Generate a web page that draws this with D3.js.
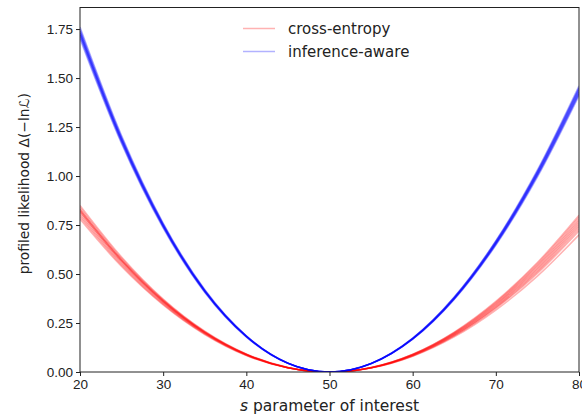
<!DOCTYPE html>
<html>
<head>
<meta charset="utf-8" />
<style>
body { margin: 0; background: white; }
svg { display: block; font-family: "DejaVu Sans", sans-serif; }
.axis path, .axis line { fill: none; stroke: #222; }
.axis text { font-size: 13.5px; fill: #222; }
</style>
<script src="https://cdnjs.cloudflare.com/ajax/libs/d3/7.8.5/d3.min.js"></script>
</head>
<body>
<div id="chart"></div>
<script>
var sValues = [20, 25, 30, 35, 40, 45, 50, 55, 60, 65, 70, 75, 80];

// cross-entropy runs
var crossEntropy = [
  [0.78, 0.538, 0.342, 0.191, 0.084, 0.021, 0, 0.023, 0.091, 0.204, 0.361, 0.559, 0.80],
  [0.80, 0.552, 0.350, 0.196, 0.086, 0.022, 0, 0.021, 0.082, 0.184, 0.325, 0.503, 0.72],
  [0.82, 0.566, 0.359, 0.201, 0.089, 0.022, 0, 0.022, 0.087, 0.194, 0.343, 0.531, 0.76],
  [0.84, 0.580, 0.368, 0.206, 0.091, 0.023, 0, 0.020, 0.080, 0.179, 0.316, 0.489, 0.70],
  [0.85, 0.587, 0.372, 0.208, 0.092, 0.023, 0, 0.022, 0.089, 0.199, 0.352, 0.545, 0.78],
  [0.81, 0.559, 0.355, 0.198, 0.087, 0.022, 0, 0.021, 0.084, 0.189, 0.334, 0.517, 0.74],
  [0.82, 0.566, 0.359, 0.201, 0.089, 0.022, 0, 0.023, 0.090, 0.201, 0.356, 0.552, 0.79],
  [0.83, 0.573, 0.364, 0.203, 0.090, 0.022, 0, 0.021, 0.083, 0.186, 0.329, 0.510, 0.73],
  [0.79, 0.545, 0.346, 0.194, 0.085, 0.021, 0, 0.022, 0.088, 0.196, 0.347, 0.538, 0.77],
  [0.83, 0.573, 0.364, 0.203, 0.090, 0.022, 0, 0.022, 0.086, 0.191, 0.338, 0.524, 0.75]
];

// inference-aware runs
var inferenceAware = [
  [1.70, 1.165, 0.734, 0.406, 0.178, 0.044, 0, 0.042, 0.167, 0.370, 0.647, 0.995, 1.41],
  [1.72, 1.178, 0.743, 0.411, 0.181, 0.044, 0, 0.043, 0.169, 0.375, 0.656, 1.010, 1.43],
  [1.74, 1.192, 0.752, 0.416, 0.183, 0.045, 0, 0.043, 0.171, 0.378, 0.661, 1.017, 1.44],
  [1.76, 1.206, 0.760, 0.421, 0.185, 0.045, 0, 0.044, 0.173, 0.383, 0.670, 1.031, 1.46],
  [1.71, 1.171, 0.739, 0.409, 0.180, 0.044, 0, 0.044, 0.172, 0.381, 0.666, 1.024, 1.45],
  [1.75, 1.199, 0.756, 0.418, 0.184, 0.045, 0, 0.043, 0.168, 0.373, 0.652, 1.003, 1.42],
  [1.73, 1.185, 0.747, 0.413, 0.182, 0.045, 0, 0.043, 0.171, 0.378, 0.661, 1.017, 1.44],
  [1.72, 1.178, 0.743, 0.411, 0.181, 0.044, 0, 0.044, 0.172, 0.381, 0.666, 1.024, 1.45],
  [1.74, 1.192, 0.752, 0.416, 0.183, 0.045, 0, 0.043, 0.169, 0.375, 0.656, 1.010, 1.43],
  [1.73, 1.185, 0.747, 0.413, 0.182, 0.045, 0, 0.043, 0.168, 0.373, 0.652, 1.003, 1.42]
];

var xTicks = [20, 30, 40, 50, 60, 70, 80];
var yTicks = [0, 0.25, 0.5, 0.75, 1.0, 1.25, 1.5, 1.75];
var legendLabels = ["cross-entropy", "inference-aware"];

var margin = { top: 7.5, right: 3, bottom: 43, left: 80 },
    width = 582 - margin.left - margin.right,
    height = 415 - margin.top - margin.bottom;

var svg = d3.select("#chart").append("svg")
    .attr("width", 582)
    .attr("height", 415);

var g = svg.append("g")
    .attr("transform", "translate(" + margin.left + "," + margin.top + ")");

var xScale = d3.scaleLinear().domain([20, 80]).range([0, width]);
var yScale = d3.scaleLinear().domain([0, 1.86]).range([height, 0]);

g.append("clipPath").attr("id", "clip")
  .append("rect").attr("width", width).attr("height", height);

var line = d3.line()
    .x(function(d, i) { return xScale(sValues[i]); })
    .y(function(d) { return yScale(d); })
    .curve(d3.curveCatmullRom.alpha(0));

var curves = g.append("g").attr("clip-path", "url(#clip)");

curves.selectAll(".ce")
  .data(crossEntropy)
  .enter().append("path")
    .attr("class", "ce")
    .attr("d", line)
    .attr("fill", "none")
    .attr("stroke", "red")
    .attr("stroke-opacity", 0.3)
    .attr("stroke-width", 1.5);

curves.selectAll(".ia")
  .data(inferenceAware)
  .enter().append("path")
    .attr("class", "ia")
    .attr("d", line)
    .attr("fill", "none")
    .attr("stroke", "blue")
    .attr("stroke-opacity", 0.3)
    .attr("stroke-width", 1.5);

// axes
g.append("g")
    .attr("class", "axis")
    .attr("transform", "translate(0," + height + ")")
    .call(d3.axisBottom(xScale).tickValues(xTicks).tickSize(4).tickPadding(3).tickFormat(d3.format("d")))
    .call(function(a) { a.select(".domain").remove(); });

g.append("g")
    .attr("class", "axis")
    .call(d3.axisLeft(yScale).tickValues(yTicks).tickSize(4).tickPadding(3).tickFormat(d3.format(".2f")))
    .call(function(a) { a.select(".domain").remove(); });

// frame
g.append("rect")
    .attr("width", width)
    .attr("height", height)
    .attr("fill", "none")
    .attr("stroke", "#222")
    .attr("stroke-width", 1);

// axis titles
g.append("text")
    .attr("transform", "translate(" + (-51) + "," + (height / 2 - 6) + ")rotate(-90)")
    .attr("text-anchor", "middle")
    .attr("font-size", "13.8px")
    .attr("fill", "#222")
    .text("profiled likelihood Δ(−lnℒ)");

var xLabel = g.append("text")
    .attr("x", width / 2)
    .attr("y", height + 38.5)
    .attr("text-anchor", "middle")
    .attr("font-size", "15.5px")
    .attr("fill", "#222");
xLabel.append("tspan").attr("font-style", "italic").text("s");
xLabel.append("tspan").text(" parameter of interest");

// legend
var legend = g.selectAll(".legend")
  .data(legendLabels)
  .enter().append("g")
    .attr("class", "legend")
    .attr("transform", function(d, i) { return "translate(" + (163) + "," + (21 + i * 23) + ")"; });

legend.append("line")
    .attr("x1", 0).attr("x2", 32)
    .attr("stroke", function(d, i) { return i === 0 ? "red" : "blue"; })
    .attr("stroke-opacity", 0.3)
    .attr("stroke-width", 1.5);

legend.append("text")
    .attr("x", 45)
    .attr("dy", "0.35em")
    .attr("font-size", "15px")
    .attr("fill", "#222")
    .text(function(d) { return d; });
</script>
</body>
</html>
